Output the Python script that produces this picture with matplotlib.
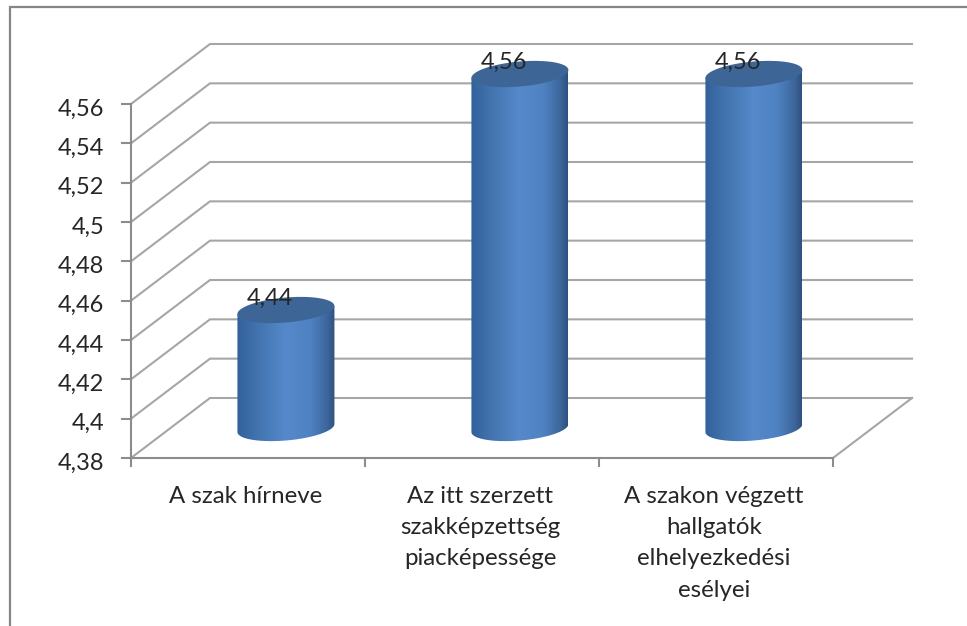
# Imports
import numpy as np
import matplotlib
matplotlib.use("Agg")
import matplotlib.pyplot as plt
from matplotlib.colors import LinearSegmentedColormap
from matplotlib.patches import Polygon

# Data
categories = ["A szak hírneve",
              "Az itt szerzett\nszakképzettség\npiacképessége",
              "A szakon végzett\nhallgatók\nelhelyezkedési\nesélyei"]
values = [4.44, 4.56, 4.56]
valueLabels = ["4,44", "4,56", "4,56"]
yTicks = [4.38, 4.40, 4.42, 4.44, 4.46, 4.48, 4.50, 4.52, 4.54, 4.56]
yTickLabels = ["4,38", "4,4", "4,42", "4,44", "4,46", "4,48", "4,5", "4,52", "4,54", "4,56"]

# Scales, pixels per category and per value unit
pxPerCat = 234.0
pxPerVal = 354.0 / 0.18
depthX = 79 / pxPerCat
depthY = 60 / pxPerVal
barHalf = 48.5 / pxPerCat
ellipseH = 12.5 / pxPerVal
ellipseTilt = 4.0 / pxPerVal

plt.rcParams["font.family"] = ["Lato", "DejaVu Sans"]
gridColor = "#a6a6a6"
axisColor = "#8c8c8c"
textColor = "#262626"
barMap = LinearSegmentedColormap.from_list(
    "cyl", [(0, "#32609a"), (0.2, "#4273ae"), (0.5, "#5589cb"),
            (0.75, "#4f82c2"), (0.92, "#3d679c"), (1, "#2f5180")])

fig = plt.figure(figsize=(9.67, 6.26), dpi=100)
ax = fig.add_axes([0, 0, 1, 1])
ax.set_xlim(-131 / pxPerCat, (967 - 131) / pxPerCat)
ax.set_ylim(4.38 - 168 / pxPerVal, 4.38 + 458 / pxPerVal)
ax.axis("off")

# Outer frame, cut off on the right and at the bottom
ax.plot([9.5 / 967, 9.5 / 967, 1], [0, 1 - 7 / 626, 1 - 7 / 626], transform=ax.transAxes,
        color="#868686", lw=1.6, solid_joinstyle="miter")

# Walls and gridlines
nCat = len(categories)
for tick, label in zip(yTicks, yTickLabels):
    ax.plot([0, depthX, nCat + depthX], [tick, tick + depthY, tick + depthY],
            color=gridColor, lw=1.5, zorder=1, solid_joinstyle="miter")
    ax.plot([-9 / pxPerCat, 0], [tick, tick], color=axisColor, lw=1.5, zorder=2)
    ax.text(-27 / pxPerCat, tick - 5 / pxPerVal, label, ha="right", va="center",
            fontsize=17, color=textColor)

# Floor and axes
ax.plot([nCat, nCat + depthX], [yTicks[0], yTicks[0] + depthY], color=gridColor, lw=1.5, zorder=1)
ax.plot([0, nCat], [yTicks[0], yTicks[0]], color=axisColor, lw=1.5, zorder=2)
ax.plot([0, 0], [yTicks[0], yTicks[-1]], color=axisColor, lw=1.5, zorder=2)
for i in range(nCat + 1):
    ax.plot([i, i], [yTicks[0], yTicks[0] - 8 / pxPerVal], color=axisColor, lw=1.5, zorder=2)

# Cylinders
t = np.linspace(0, 2 * np.pi, 200)
lower = np.linspace(np.pi, 2 * np.pi, 100)
for i, (value, valueLabel) in enumerate(zip(values, valueLabels)):
    cx = i + 0.5 + depthX * 0.48
    topY = value + depthY * 0.5
    baseY = yTicks[0] + depthY * 0.5

    bodyX = np.r_[cx - barHalf, cx + barHalf * np.cos(lower), cx + barHalf]
    bodyY = np.r_[topY - ellipseTilt,
                  baseY + ellipseH * np.sin(lower) + ellipseTilt * np.cos(lower),
                  topY + ellipseTilt]
    body = Polygon(np.c_[bodyX, bodyY], closed=True, fc="none", ec="none", zorder=3)
    ax.add_patch(body)
    img = ax.imshow(np.linspace(0, 1, 256)[None, :], cmap=barMap, aspect="auto", zorder=3,
                    extent=[cx - barHalf, cx + barHalf, baseY - 2 * ellipseH, topY + 2 * ellipseH])
    img.set_clip_path(body)

    top = np.c_[cx + barHalf * np.cos(t),
                topY + ellipseH * np.sin(t) + ellipseTilt * np.cos(t)]
    ax.add_patch(Polygon(top, closed=True, fc="#3d6697", ec="none", zorder=4))

    ax.text(cx - 16 / pxPerCat, topY + 12 / pxPerVal, valueLabel, ha="center", va="center",
            fontsize=17, color=textColor, zorder=5)

# imshow resets the limits
ax.set_xlim(-131 / pxPerCat, (967 - 131) / pxPerCat)
ax.set_ylim(4.38 - 168 / pxPerVal, 4.38 + 458 / pxPerVal)

# Category labels
for i, cat in enumerate(categories):
    ax.text(i + 0.5 - 2 / pxPerCat, yTicks[0] - 28 / pxPerVal, cat, ha="center", va="top",
            fontsize=17.3, color=textColor, linespacing=1.6)

fig.savefig("out.png", dpi=100)
